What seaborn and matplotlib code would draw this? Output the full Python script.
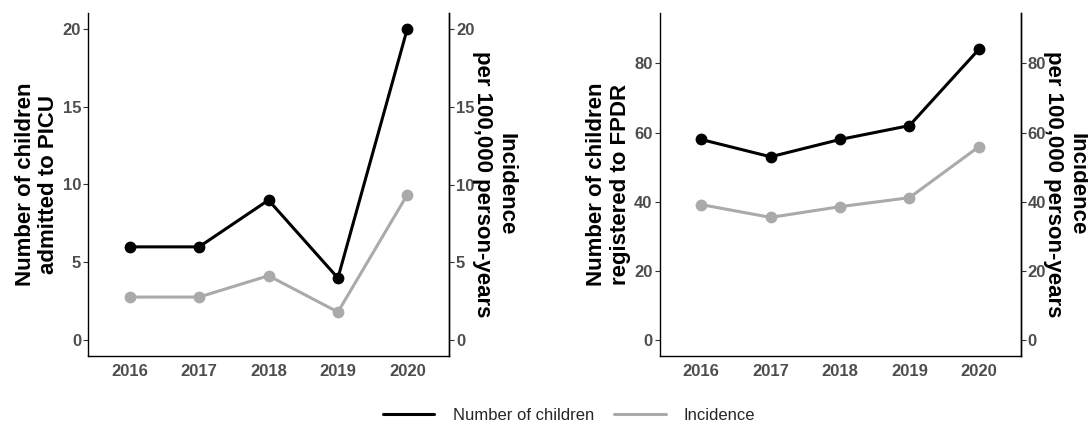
import matplotlib
matplotlib.use("Agg")
import matplotlib.pyplot as plt
from matplotlib.lines import Line2D
import seaborn as sns

sns.set_style("white")
plt.rcParams['font.family'] = ['Liberation Sans', 'DejaVu Sans']

years = [2016, 2017, 2018, 2019, 2020]

# PICU panel
picu_children = [6, 6, 9, 4, 20]
picu_incidence = [2.78, 2.78, 4.15, 1.82, 9.35]
picu_ticks = [0, 5, 10, 15, 20]

# FPDR panel
fpdr_children = [58, 53, 58, 62, 84]
fpdr_incidence = [39.2, 35.5, 38.6, 41.2, 55.9]
fpdr_ticks = [0, 20, 40, 60, 80]

left_titles = ["Number of children\nadmitted to PICU",
               "Number of children\nregistered to FPDR"]
right_title = "Incidence\nper 100,000 person-years"
legend_labels = ["Number of children", "Incidence"]

black = "#000000"
grey = "#AAAAAA"
tick_col = "#4D4D4D"

fig = plt.figure(figsize=(10.88, 4.25), dpi=100)

panels = [
    (88, picu_children, picu_incidence, picu_ticks, (-1, 21), left_titles[0]),
    (659.5, fpdr_children, fpdr_incidence, fpdr_ticks, (-4.5, 94.5), left_titles[1]),
]

for x0, children, incid, ticks, ylim, ltitle in panels:
    ax = fig.add_axes([x0 / 1088, 1 - 356 / 425, 361 / 1088, 343 / 425])
    ax2 = ax.twinx()

    sns.lineplot(x=years, y=children, ax=ax, color=black, linewidth=2.2,
                 marker="o", markersize=8.5, markeredgewidth=0)
    sns.lineplot(x=years, y=incid, ax=ax2, color=grey, linewidth=2.2,
                 marker="o", markersize=8.5, markeredgewidth=0)

    for a in (ax, ax2):
        a.set_xlim(2015.4, 2020.6)
        a.set_ylim(*ylim)
        a.set_yticks(ticks)
        a.set_yticklabels([str(t) for t in ticks])
        a.grid(False)
        a.spines['top'].set_visible(False)
        for s in ('left', 'right', 'bottom'):
            a.spines[s].set_color(black)
            a.spines[s].set_linewidth(1.0)
        a.tick_params(axis='both', length=3.5, width=0.8, color="#333333",
                      labelsize=12, labelcolor=tick_col, pad=1.5)
        for lab in a.get_yticklabels() + a.get_xticklabels():
            lab.set_fontweight('bold')

    ax.set_xticks(years)
    ax.set_xticklabels([str(y) for y in years], fontweight='bold')
    ax.tick_params(axis='x', pad=2)
    ax.set_xlabel("")
    ax2.spines['left'].set_visible(False)
    ax2.spines['bottom'].set_visible(False)

    ax.set_ylabel(ltitle, fontsize=16, fontweight='bold', color=black,
                  va='center', linespacing=1.15)
    ax.yaxis.set_label_coords(-51 / 361, 0.5)
    ax2.set_ylabel(right_title, fontsize=16, fontweight='bold', color=black,
                   rotation=270, va='center', linespacing=1.15)
    ax2.yaxis.set_label_coords(1 + 45 / 361, 0.5)

handles = [Line2D([], [], color=black, linewidth=2.2),
           Line2D([], [], color=grey, linewidth=2.2)]
fig.legend(handles, legend_labels, loc='center', ncol=2, frameon=False,
           bbox_to_anchor=(569 / 1088, 1 - 415 / 425), fontsize=12,
           handlelength=3.1, handletextpad=1.1, columnspacing=1.2)

fig.savefig("out.png", dpi=100)
